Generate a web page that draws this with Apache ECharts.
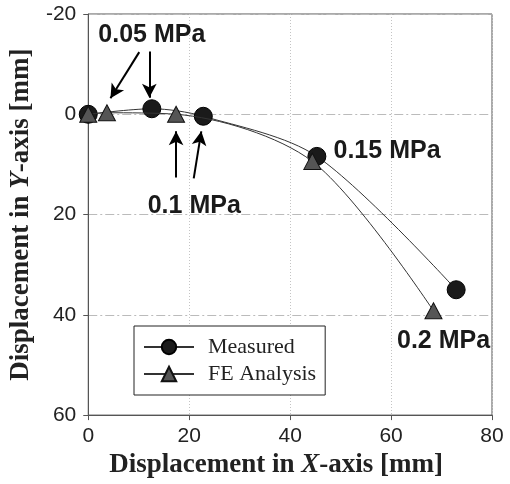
<!DOCTYPE html>
<html>
<head>
<meta charset="utf-8">
<script src="https://cdn.jsdelivr.net/npm/echarts@6/dist/echarts.min.js"></script>
<style>
  html, body { margin: 0; padding: 0; background: #fff; }
  #chart { width: 510px; height: 484px; }
</style>
</head>
<body>
<div id="chart"></div>
<script>
// values
let measured = [[0, 0], [12.6, -1.1], [22.8, 0.4], [45.3, 8.4], [72.9, 35]]
let feAnalysis = [[0, 0], [3.7, -0.3], [17.4, 0], [44.4, 9.4], [68.4, 39.2]]
let xTicks = [0, 20, 40, 60, 80]
let yTicks = [-20, 0, 20, 40, 60]

// pressure notes and the arrows that point at the points
let notes = [
    { text: '0.05 MPa', at: [12.6, -15.8] },
    { text: '0.1 MPa', at: [21.0, 18.4] },
    { text: '0.15 MPa', at: [59.2, 7.3] },
    { text: '0.2 MPa', at: [70.4, 45.2] }
]
let arrows = [
    [[10.1, -12.4], [4.4, -3.2]],
    [[12.1, -12.5], [12.1, -3.3]],
    [[17.4, 12.6], [17.4, 3.4]],
    [[20.9, 12.8], [22.4, 3.4]]
]

let chart = echarts.init(document.getElementById('chart'))

let sansLabel = { fontFamily: 'Liberation Sans', fontSize: 21, color: '#222' }
let titleStyle = {
    fontFamily: 'Liberation Serif', fontSize: 27, fontWeight: 'bold', color: '#222',
    rich: { i: { fontFamily: 'Liberation Serif', fontSize: 27, fontWeight: 'bold', fontStyle: 'italic', color: '#222' } }
}

let option = {
    animation: false,
    grid: {
        left: 88, right: 18, top: 14, bottom: 68,
        show: true, borderColor: '#555', borderWidth: 1
    },
    legend: {
        orient: 'vertical',
        left: 134, top: 326,
        padding: [10, 9, 10, 9],
        itemGap: 5,
        itemWidth: 50, itemHeight: 18,
        borderColor: '#222', borderWidth: 1,
        backgroundColor: '#fff',
        textStyle: { fontFamily: 'Liberation Serif', fontSize: 22, lineHeight: 22, color: '#222', padding: [0, 0, 0, 9] },
        data: ['Measured', 'FE Analysis']
    },
    xAxis: {
        type: 'value',
        min: xTicks[0], max: xTicks[xTicks.length - 1], interval: 20,
        axisLine: { show: true, onZero: false, lineStyle: { color: '#555' } },
        axisTick: { show: true, length: 5, lineStyle: { color: '#555' } },
        axisLabel: Object.assign({ margin: 11 }, sansLabel),
        splitLine: { show: true, lineStyle: { color: '#c4c4c4', type: [1, 2] } },
        name: 'Displacement in {i|X}-axis [mm]',
        nameLocation: 'middle', nameGap: 30,
        nameTextStyle: Object.assign({ padding: [0, 28, 0, 0] }, titleStyle)
    },
    yAxis: {
        type: 'value',
        inverse: true,
        min: yTicks[0], max: yTicks[yTicks.length - 1], interval: 20,
        axisLine: { show: true, onZero: false, lineStyle: { color: '#555' } },
        axisTick: { show: true, length: 5, lineStyle: { color: '#555' } },
        axisLabel: Object.assign({ margin: 12 }, sansLabel),
        splitLine: { show: true, lineStyle: { color: '#bbb', type: [9, 3, 2, 3] } },
        name: 'Displacement in {i|Y}-axis [mm]',
        nameLocation: 'middle', nameGap: 43, nameRotate: 90,
        nameTextStyle: titleStyle
    },
    series: [
        {
            name: 'Measured',
            type: 'line',
            smooth: 0.3,
            data: measured,
            symbol: 'circle', symbolSize: 18,
            lineStyle: { color: '#333', width: 1 },
            itemStyle: { color: '#1a1a1a', borderColor: '#000', borderWidth: 1 },
            z: 3,
            markPoint: {
                silent: true,
                symbol: 'circle', symbolSize: 1,
                itemStyle: { color: 'rgba(0,0,0,0)' },
                label: {
                    show: true, position: 'inside',
                    fontFamily: 'Liberation Sans', fontSize: 25, fontWeight: 'bold', color: '#1a1a1a',
                    formatter: p => p.name
                },
                data: notes.map(n => ({ name: n.text, coord: n.at }))
            },
            markLine: {
                silent: true,
                symbol: ['none', 'arrow'], symbolSize: [11, 14],
                label: { show: false },
                lineStyle: { color: '#000', width: 2, type: 'solid' },
                data: arrows.map(a => [{ coord: a[0] }, { coord: a[1] }])
            }
        },
        {
            name: 'FE Analysis',
            type: 'line',
            smooth: 0.3,
            data: feAnalysis,
            symbol: 'triangle', symbolSize: [17, 16],
            lineStyle: { color: '#333', width: 1 },
            itemStyle: { color: '#555', borderColor: '#111', borderWidth: 1 },
            z: 4
        }
    ]
}
chart.setOption(option)
</script>
</body>
</html>
